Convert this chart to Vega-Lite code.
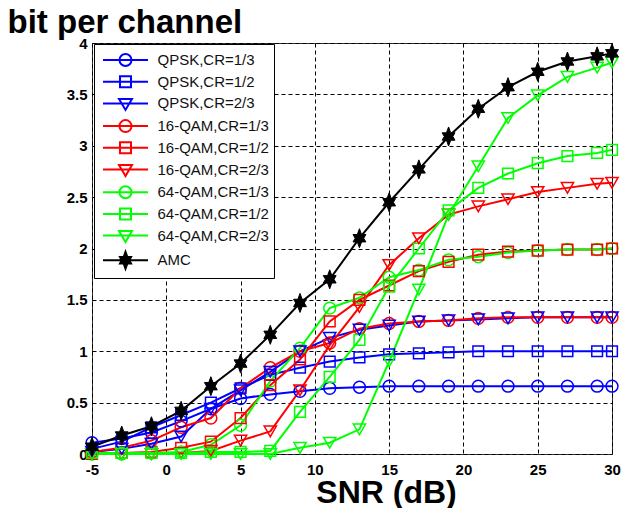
{
  "$schema": "https://vega.github.io/schema/vega-lite/v6.json",
  "width": 520,
  "height": 411,
  "autosize": {"type": "none"},
  "padding": {"left": 92, "top": 43, "right": 9, "bottom": 54},
  "background": "white",
  "config": {"view": {"stroke": "#333", "strokeWidth": 1}},
  "data": {"values": [
    {"series": "QPSK,CR=1/3", "snr": -5, "bits": 0.11}, {"series": "QPSK,CR=1/3", "snr": -3, "bits": 0.15}, {"series": "QPSK,CR=1/3", "snr": -1, "bits": 0.21}, {"series": "QPSK,CR=1/3", "snr": 1, "bits": 0.32}, {"series": "QPSK,CR=1/3", "snr": 3, "bits": 0.44}, {"series": "QPSK,CR=1/3", "snr": 5, "bits": 0.54}, {"series": "QPSK,CR=1/3", "snr": 7, "bits": 0.58}, {"series": "QPSK,CR=1/3", "snr": 9, "bits": 0.61}, {"series": "QPSK,CR=1/3", "snr": 11, "bits": 0.64}, {"series": "QPSK,CR=1/3", "snr": 13, "bits": 0.65}, {"series": "QPSK,CR=1/3", "snr": 15, "bits": 0.66}, {"series": "QPSK,CR=1/3", "snr": 17, "bits": 0.66}, {"series": "QPSK,CR=1/3", "snr": 19, "bits": 0.66}, {"series": "QPSK,CR=1/3", "snr": 21, "bits": 0.66}, {"series": "QPSK,CR=1/3", "snr": 23, "bits": 0.66}, {"series": "QPSK,CR=1/3", "snr": 25, "bits": 0.66}, {"series": "QPSK,CR=1/3", "snr": 27, "bits": 0.66}, {"series": "QPSK,CR=1/3", "snr": 29, "bits": 0.66}, {"series": "QPSK,CR=1/3", "snr": 30, "bits": 0.66},
    {"series": "QPSK,CR=1/2", "snr": -5, "bits": 0.05}, {"series": "QPSK,CR=1/2", "snr": -3, "bits": 0.12}, {"series": "QPSK,CR=1/2", "snr": -1, "bits": 0.26}, {"series": "QPSK,CR=1/2", "snr": 1, "bits": 0.38}, {"series": "QPSK,CR=1/2", "snr": 3, "bits": 0.5}, {"series": "QPSK,CR=1/2", "snr": 5, "bits": 0.64}, {"series": "QPSK,CR=1/2", "snr": 7, "bits": 0.77}, {"series": "QPSK,CR=1/2", "snr": 9, "bits": 0.84}, {"series": "QPSK,CR=1/2", "snr": 11, "bits": 0.9}, {"series": "QPSK,CR=1/2", "snr": 13, "bits": 0.94}, {"series": "QPSK,CR=1/2", "snr": 15, "bits": 0.97}, {"series": "QPSK,CR=1/2", "snr": 17, "bits": 0.98}, {"series": "QPSK,CR=1/2", "snr": 19, "bits": 0.99}, {"series": "QPSK,CR=1/2", "snr": 21, "bits": 1.0}, {"series": "QPSK,CR=1/2", "snr": 23, "bits": 1.0}, {"series": "QPSK,CR=1/2", "snr": 25, "bits": 1.0}, {"series": "QPSK,CR=1/2", "snr": 27, "bits": 1.0}, {"series": "QPSK,CR=1/2", "snr": 29, "bits": 1.0}, {"series": "QPSK,CR=1/2", "snr": 30, "bits": 1.0},
    {"series": "QPSK,CR=2/3", "snr": -5, "bits": 0.02}, {"series": "QPSK,CR=2/3", "snr": -3, "bits": 0.05}, {"series": "QPSK,CR=2/3", "snr": -1, "bits": 0.1}, {"series": "QPSK,CR=2/3", "snr": 1, "bits": 0.17}, {"series": "QPSK,CR=2/3", "snr": 3, "bits": 0.44}, {"series": "QPSK,CR=2/3", "snr": 5, "bits": 0.62}, {"series": "QPSK,CR=2/3", "snr": 7, "bits": 0.8}, {"series": "QPSK,CR=2/3", "snr": 9, "bits": 1.0}, {"series": "QPSK,CR=2/3", "snr": 11, "bits": 1.13}, {"series": "QPSK,CR=2/3", "snr": 13, "bits": 1.21}, {"series": "QPSK,CR=2/3", "snr": 15, "bits": 1.25}, {"series": "QPSK,CR=2/3", "snr": 17, "bits": 1.29}, {"series": "QPSK,CR=2/3", "snr": 19, "bits": 1.3}, {"series": "QPSK,CR=2/3", "snr": 21, "bits": 1.31}, {"series": "QPSK,CR=2/3", "snr": 23, "bits": 1.32}, {"series": "QPSK,CR=2/3", "snr": 25, "bits": 1.33}, {"series": "QPSK,CR=2/3", "snr": 27, "bits": 1.33}, {"series": "QPSK,CR=2/3", "snr": 29, "bits": 1.33}, {"series": "QPSK,CR=2/3", "snr": 30, "bits": 1.33},
    {"series": "16-QAM,CR=1/3", "snr": -5, "bits": 0.02}, {"series": "16-QAM,CR=1/3", "snr": -3, "bits": 0.06}, {"series": "16-QAM,CR=1/3", "snr": -1, "bits": 0.13}, {"series": "16-QAM,CR=1/3", "snr": 1, "bits": 0.26}, {"series": "16-QAM,CR=1/3", "snr": 3, "bits": 0.35}, {"series": "16-QAM,CR=1/3", "snr": 5, "bits": 0.64}, {"series": "16-QAM,CR=1/3", "snr": 7, "bits": 0.84}, {"series": "16-QAM,CR=1/3", "snr": 9, "bits": 1.0}, {"series": "16-QAM,CR=1/3", "snr": 11, "bits": 1.08}, {"series": "16-QAM,CR=1/3", "snr": 13, "bits": 1.22}, {"series": "16-QAM,CR=1/3", "snr": 15, "bits": 1.27}, {"series": "16-QAM,CR=1/3", "snr": 17, "bits": 1.29}, {"series": "16-QAM,CR=1/3", "snr": 19, "bits": 1.3}, {"series": "16-QAM,CR=1/3", "snr": 21, "bits": 1.32}, {"series": "16-QAM,CR=1/3", "snr": 23, "bits": 1.33}, {"series": "16-QAM,CR=1/3", "snr": 25, "bits": 1.33}, {"series": "16-QAM,CR=1/3", "snr": 27, "bits": 1.33}, {"series": "16-QAM,CR=1/3", "snr": 29, "bits": 1.33}, {"series": "16-QAM,CR=1/3", "snr": 30, "bits": 1.33},
    {"series": "16-QAM,CR=1/2", "snr": -5, "bits": 0.0}, {"series": "16-QAM,CR=1/2", "snr": -3, "bits": 0.01}, {"series": "16-QAM,CR=1/2", "snr": -1, "bits": 0.02}, {"series": "16-QAM,CR=1/2", "snr": 1, "bits": 0.06}, {"series": "16-QAM,CR=1/2", "snr": 3, "bits": 0.12}, {"series": "16-QAM,CR=1/2", "snr": 5, "bits": 0.35}, {"series": "16-QAM,CR=1/2", "snr": 7, "bits": 0.67}, {"series": "16-QAM,CR=1/2", "snr": 9, "bits": 0.92}, {"series": "16-QAM,CR=1/2", "snr": 11, "bits": 1.29}, {"series": "16-QAM,CR=1/2", "snr": 13, "bits": 1.5}, {"series": "16-QAM,CR=1/2", "snr": 15, "bits": 1.64}, {"series": "16-QAM,CR=1/2", "snr": 17, "bits": 1.78}, {"series": "16-QAM,CR=1/2", "snr": 19, "bits": 1.87}, {"series": "16-QAM,CR=1/2", "snr": 21, "bits": 1.94}, {"series": "16-QAM,CR=1/2", "snr": 23, "bits": 1.97}, {"series": "16-QAM,CR=1/2", "snr": 25, "bits": 1.98}, {"series": "16-QAM,CR=1/2", "snr": 27, "bits": 1.99}, {"series": "16-QAM,CR=1/2", "snr": 29, "bits": 1.99}, {"series": "16-QAM,CR=1/2", "snr": 30, "bits": 2.0},
    {"series": "16-QAM,CR=2/3", "snr": -5, "bits": 0.0}, {"series": "16-QAM,CR=2/3", "snr": -3, "bits": 0.0}, {"series": "16-QAM,CR=2/3", "snr": -1, "bits": 0.0}, {"series": "16-QAM,CR=2/3", "snr": 1, "bits": 0.01}, {"series": "16-QAM,CR=2/3", "snr": 3, "bits": 0.03}, {"series": "16-QAM,CR=2/3", "snr": 5, "bits": 0.13}, {"series": "16-QAM,CR=2/3", "snr": 7, "bits": 0.22}, {"series": "16-QAM,CR=2/3", "snr": 9, "bits": 0.62}, {"series": "16-QAM,CR=2/3", "snr": 11, "bits": 1.06}, {"series": "16-QAM,CR=2/3", "snr": 13, "bits": 1.43}, {"series": "16-QAM,CR=2/3", "snr": 15, "bits": 1.84}, {"series": "16-QAM,CR=2/3", "snr": 17, "bits": 2.1}, {"series": "16-QAM,CR=2/3", "snr": 19, "bits": 2.33}, {"series": "16-QAM,CR=2/3", "snr": 21, "bits": 2.41}, {"series": "16-QAM,CR=2/3", "snr": 23, "bits": 2.48}, {"series": "16-QAM,CR=2/3", "snr": 25, "bits": 2.55}, {"series": "16-QAM,CR=2/3", "snr": 27, "bits": 2.59}, {"series": "16-QAM,CR=2/3", "snr": 29, "bits": 2.63}, {"series": "16-QAM,CR=2/3", "snr": 30, "bits": 2.64},
    {"series": "64-QAM,CR=1/3", "snr": -5, "bits": 0.0}, {"series": "64-QAM,CR=1/3", "snr": -3, "bits": 0.0}, {"series": "64-QAM,CR=1/3", "snr": -1, "bits": 0.01}, {"series": "64-QAM,CR=1/3", "snr": 1, "bits": 0.02}, {"series": "64-QAM,CR=1/3", "snr": 3, "bits": 0.09}, {"series": "64-QAM,CR=1/3", "snr": 5, "bits": 0.28}, {"series": "64-QAM,CR=1/3", "snr": 7, "bits": 0.71}, {"series": "64-QAM,CR=1/3", "snr": 9, "bits": 1.03}, {"series": "64-QAM,CR=1/3", "snr": 11, "bits": 1.42}, {"series": "64-QAM,CR=1/3", "snr": 13, "bits": 1.52}, {"series": "64-QAM,CR=1/3", "snr": 15, "bits": 1.72}, {"series": "64-QAM,CR=1/3", "snr": 17, "bits": 1.79}, {"series": "64-QAM,CR=1/3", "snr": 19, "bits": 1.89}, {"series": "64-QAM,CR=1/3", "snr": 21, "bits": 1.92}, {"series": "64-QAM,CR=1/3", "snr": 23, "bits": 1.96}, {"series": "64-QAM,CR=1/3", "snr": 25, "bits": 1.98}, {"series": "64-QAM,CR=1/3", "snr": 27, "bits": 1.99}, {"series": "64-QAM,CR=1/3", "snr": 29, "bits": 1.99}, {"series": "64-QAM,CR=1/3", "snr": 30, "bits": 2.0},
    {"series": "64-QAM,CR=1/2", "snr": -5, "bits": 0.01}, {"series": "64-QAM,CR=1/2", "snr": -3, "bits": 0.01}, {"series": "64-QAM,CR=1/2", "snr": -1, "bits": 0.01}, {"series": "64-QAM,CR=1/2", "snr": 1, "bits": 0.01}, {"series": "64-QAM,CR=1/2", "snr": 3, "bits": 0.02}, {"series": "64-QAM,CR=1/2", "snr": 5, "bits": 0.02}, {"series": "64-QAM,CR=1/2", "snr": 7, "bits": 0.03}, {"series": "64-QAM,CR=1/2", "snr": 9, "bits": 0.41}, {"series": "64-QAM,CR=1/2", "snr": 11, "bits": 0.75}, {"series": "64-QAM,CR=1/2", "snr": 13, "bits": 1.11}, {"series": "64-QAM,CR=1/2", "snr": 15, "bits": 1.63}, {"series": "64-QAM,CR=1/2", "snr": 17, "bits": 2.0}, {"series": "64-QAM,CR=1/2", "snr": 19, "bits": 2.37}, {"series": "64-QAM,CR=1/2", "snr": 21, "bits": 2.59}, {"series": "64-QAM,CR=1/2", "snr": 23, "bits": 2.73}, {"series": "64-QAM,CR=1/2", "snr": 25, "bits": 2.83}, {"series": "64-QAM,CR=1/2", "snr": 27, "bits": 2.9}, {"series": "64-QAM,CR=1/2", "snr": 29, "bits": 2.93}, {"series": "64-QAM,CR=1/2", "snr": 30, "bits": 2.96},
    {"series": "64-QAM,CR=2/3", "snr": -5, "bits": 0.0}, {"series": "64-QAM,CR=2/3", "snr": -3, "bits": 0.0}, {"series": "64-QAM,CR=2/3", "snr": -1, "bits": 0.0}, {"series": "64-QAM,CR=2/3", "snr": 1, "bits": 0.0}, {"series": "64-QAM,CR=2/3", "snr": 3, "bits": 0.0}, {"series": "64-QAM,CR=2/3", "snr": 5, "bits": 0.0}, {"series": "64-QAM,CR=2/3", "snr": 7, "bits": 0.0}, {"series": "64-QAM,CR=2/3", "snr": 9, "bits": 0.06}, {"series": "64-QAM,CR=2/3", "snr": 11, "bits": 0.11}, {"series": "64-QAM,CR=2/3", "snr": 13, "bits": 0.24}, {"series": "64-QAM,CR=2/3", "snr": 15, "bits": 0.9}, {"series": "64-QAM,CR=2/3", "snr": 17, "bits": 1.6}, {"series": "64-QAM,CR=2/3", "snr": 19, "bits": 2.33}, {"series": "64-QAM,CR=2/3", "snr": 21, "bits": 2.8}, {"series": "64-QAM,CR=2/3", "snr": 23, "bits": 3.27}, {"series": "64-QAM,CR=2/3", "snr": 25, "bits": 3.49}, {"series": "64-QAM,CR=2/3", "snr": 27, "bits": 3.67}, {"series": "64-QAM,CR=2/3", "snr": 29, "bits": 3.76}, {"series": "64-QAM,CR=2/3", "snr": 30, "bits": 3.81},
    {"series": "AMC", "snr": -5, "bits": 0.07}, {"series": "AMC", "snr": -3, "bits": 0.18}, {"series": "AMC", "snr": -1, "bits": 0.27}, {"series": "AMC", "snr": 1, "bits": 0.42}, {"series": "AMC", "snr": 3, "bits": 0.66}, {"series": "AMC", "snr": 5, "bits": 0.88}, {"series": "AMC", "snr": 7, "bits": 1.16}, {"series": "AMC", "snr": 9, "bits": 1.47}, {"series": "AMC", "snr": 11, "bits": 1.7}, {"series": "AMC", "snr": 13, "bits": 2.1}, {"series": "AMC", "snr": 15, "bits": 2.45}, {"series": "AMC", "snr": 17, "bits": 2.77}, {"series": "AMC", "snr": 19, "bits": 3.09}, {"series": "AMC", "snr": 21, "bits": 3.36}, {"series": "AMC", "snr": 23, "bits": 3.57}, {"series": "AMC", "snr": 25, "bits": 3.72}, {"series": "AMC", "snr": 27, "bits": 3.82}, {"series": "AMC", "snr": 29, "bits": 3.87}, {"series": "AMC", "snr": 30, "bits": 3.9}
  ]},
  "encoding": {
    "x": {"field": "snr", "type": "quantitative",
      "scale": {"domain": [-5, 30], "nice": false, "zero": false},
      "axis": {"values": [-5, 0, 5, 10, 15, 20, 25, 30], "labelExpr": "datum.value",
        "title": "SNR (dB)", "titleFont": "Liberation Sans", "titleFontWeight": "bold", "titleFontSize": 32, "titleColor": "black",
        "titleX": 294, "titleY": 48, "titleBaseline": "alphabetic", "titleAlign": "center",
        "labelFont": "Liberation Sans", "labelFontWeight": "bold", "labelFontSize": 15, "labelColor": "black",
        "labelPadding": 8, "labelFlush": false, "labelOverlap": false, "labelBound": false,
        "ticks": false, "domain": false, "grid": true, "gridColor": "black", "gridOpacity": 1, "gridDash": [4, 3], "gridWidth": 1}},
    "y": {"field": "bits", "type": "quantitative",
      "scale": {"domain": [0, 4], "nice": false},
      "axis": {"values": [0, 0.5, 1, 1.5, 2, 2.5, 3, 3.5, 4], "labelExpr": "datum.value",
        "title": "bit per channel", "titleFont": "Liberation Sans", "titleFontWeight": "bold", "titleFontSize": 33, "titleColor": "black",
        "titleAngle": 0, "titleX": -85, "titleY": -11, "titleAlign": "left", "titleBaseline": "alphabetic",
        "labelFont": "Liberation Sans", "labelFontWeight": "bold", "labelFontSize": 15, "labelColor": "black",
        "labelPadding": 5, "labelFlush": false, "labelOverlap": false, "labelBound": false,
        "ticks": false, "domain": false, "grid": true, "gridColor": "black", "gridOpacity": 1, "gridDash": [4, 3], "gridWidth": 1}}
  },
  "layer": [
    {
      "mark": {"type": "line", "interpolate": "linear"},
      "encoding": {
        "color": {"field": "series", "type": "nominal",
          "scale": {"domain": ["QPSK,CR=1/3", "QPSK,CR=1/2", "QPSK,CR=2/3", "16-QAM,CR=1/3", "16-QAM,CR=1/2", "16-QAM,CR=2/3", "64-QAM,CR=1/3", "64-QAM,CR=1/2", "64-QAM,CR=2/3", "AMC"],
            "range": ["#0000ff", "#0000ff", "#0000ff", "#ff0000", "#ff0000", "#ff0000", "#00ff00", "#00ff00", "#00ff00", "#000000"]},
          "legend": {"title": null, "orient": "none", "legendX": 2, "legendY": 1, "padding": 5,
            "fillColor": "white", "strokeColor": "black",
            "symbolSize": 400, "symbolOffset": 15.5, "labelOffset": 21, "rowPadding": 0.7, "symbolStrokeWidth": 1.5,
            "labelFont": "Liberation Sans", "labelFontSize": 15, "labelColor": "#111", "labelLimit": 300,
            "encode": {"symbols": {"update": {
              "shape": {"signal": "datum.value === 'AMC' ? 'M-2.25,0H2.25M0,-0.85L0.185,-0.32L0.55,-0.32L0.37,0L0.55,0.32L0.185,0.32L0,0.85L-0.185,0.32L-0.55,0.32L-0.37,0L-0.55,-0.32L-0.185,-0.32Z' : indexof(datum.value, '1/3') >= 0 ? 'M-2.25,0H2.25M0.6,0A0.6,0.6 0 1,1 -0.6,0A0.6,0.6 0 1,1 0.6,0Z' : indexof(datum.value, '1/2') >= 0 ? 'M-2.25,0H2.25M-0.55,-0.55H0.55V0.55H-0.55Z' : 'M-2.25,0H2.25M-0.65,-0.45H0.65L0,0.65Z'"},
              "stroke": {"scale": "color", "field": "value"},
              "fill": {"signal": "datum.value === 'AMC' ? 'black' : 'transparent'"},
              "strokeWidth": {"value": 1.5},
              "opacity": {"value": 1}
            }}}
          }},
        "strokeWidth": {"field": "series", "type": "nominal",
          "scale": {"domain": ["QPSK,CR=1/3", "QPSK,CR=1/2", "QPSK,CR=2/3", "16-QAM,CR=1/3", "16-QAM,CR=1/2", "16-QAM,CR=2/3", "64-QAM,CR=1/3", "64-QAM,CR=1/2", "64-QAM,CR=2/3", "AMC"],
            "range": [2, 2, 2, 2, 2, 1.8, 2, 1.8, 1.2, 1.6]},
          "legend": null}
      }
    },
    {
      "transform": [{"filter": "indexof(datum.series, '1/3') >= 0"}],
      "mark": {"type": "point", "shape": "circle", "filled": false, "strokeWidth": 1.5, "size": 140, "opacity": 1},
      "encoding": {
        "stroke": {"field": "series", "type": "nominal",
          "scale": {"domain": ["QPSK,CR=1/3", "QPSK,CR=1/2", "QPSK,CR=2/3", "16-QAM,CR=1/3", "16-QAM,CR=1/2", "16-QAM,CR=2/3", "64-QAM,CR=1/3", "64-QAM,CR=1/2", "64-QAM,CR=2/3", "AMC"],
            "range": ["#0000ff", "#0000ff", "#0000ff", "#ff0000", "#ff0000", "#ff0000", "#00ff00", "#00ff00", "#00ff00", "#000000"]},
          "legend": null}
      }
    },
    {
      "transform": [{"filter": "indexof(datum.series, '1/2') >= 0"}],
      "mark": {"type": "point", "shape": "square", "filled": false, "strokeWidth": 1.5, "size": 115, "opacity": 1},
      "encoding": {
        "stroke": {"field": "series", "type": "nominal", "legend": null}
      }
    },
    {
      "transform": [{"filter": "indexof(datum.series, '2/3') >= 0"}],
      "mark": {"type": "point", "shape": "triangle-down", "filled": false, "strokeWidth": 1.5, "size": 150, "opacity": 1},
      "encoding": {
        "stroke": {"field": "series", "type": "nominal", "legend": null}
      }
    },
    {
      "transform": [{"filter": "datum.series === 'AMC'"}],
      "mark": {"type": "point", "shape": "M0,-1.67L0.375,-0.65L1.126,-0.65L0.75,0L1.126,0.65L0.375,0.65L0,1.67L-0.375,0.65L-1.126,0.65L-0.75,0L-1.126,-0.65L-0.375,-0.65Z", "filled": true, "fill": "black", "stroke": "black", "strokeWidth": 1, "size": 130, "opacity": 1},
      "encoding": {}
    }
  ]
}
